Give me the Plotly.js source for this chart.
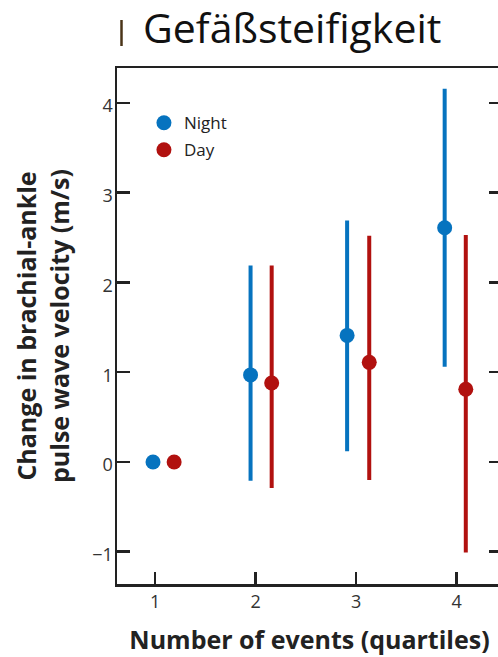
<!DOCTYPE html>
<html>
<head>
<meta charset="utf-8">
<script src="https://cdn.plot.ly/plotly-3.0.1.min.js"></script>
<style>
html,body{margin:0;padding:0;overflow:hidden;background:#fff;}
#chart{width:510px;height:657px;}
</style>
</head>
<body>
<div id="chart"></div>
<script>
// Quartile categories
const quartiles = [1, 2, 3, 4];
// Plotted x positions (dodged)
const nightX = [0.98, 1.95, 2.91, 3.88];
const dayX   = [1.19, 2.16, 3.13, 4.09];
// Night series: estimate and CI bounds
const nightValue = [0, 0.97, 1.41, 2.61];
const nightUpper = [0, 2.19, 2.69, 4.16];
const nightLower = [0, -0.21, 0.12, 1.06];
// Day series
const dayValue = [0, 0.88, 1.11, 0.81];
const dayUpper = [0, 2.19, 2.52, 2.53];
const dayLower = [0, -0.29, -0.20, -1.01];
const yTicks = [-1, 0, 1, 2, 3, 4];

const BLUE = '#0673BF';
const RED = '#B1110F';
const INK = '#222222';
const FONT = 'Open Sans, Noto Sans, sans-serif';

function trace(name, group, xs, vals, up, lo, color) {
  return {
    type: 'scatter', mode: 'markers', name: name, legendgroup: group,
    x: xs, y: vals,
    marker: {color: color, size: 15, line: {width: 0}},
    error_y: {
      type: 'data', symmetric: false,
      array: up.map((u, i) => u - vals[i]),
      arrayminus: lo.map((l, i) => vals[i] - l),
      color: color, thickness: 4, width: 0
    },
    cliponaxis: false
  };
}

const data = [
  trace('Night', 'n', nightX, nightValue, nightUpper, nightLower, BLUE),
  trace('Day', 'd', dayX, dayValue, dayUpper, dayLower, RED)
];

const layout = {
  width: 510, height: 657,
  margin: {l: 117, r: 8, t: 68, b: 73, pad: 0},
  paper_bgcolor: '#ffffff', plot_bgcolor: '#ffffff',
  font: {family: FONT, color: INK},
  title: {
    text: 'Gefäßsteifigkeit',
    font: {family: FONT, size: 41, color: '#111111'},
    xref: 'container', yref: 'container',
    x: 143/510, xanchor: 'left',
    y: 1 - 28.5/657, yanchor: 'middle'
  },
  showlegend: true,
  legend: {
    x: 0.07, y: 0.928, xanchor: 'left', yanchor: 'top',
    bgcolor: 'rgba(0,0,0,0)', borderwidth: 0,
    font: {family: FONT, size: 17, color: INK},
    itemwidth: 30, traceorder: 'grouped', tracegroupgap: 2
  },
  xaxis: {
    range: [0.622, 4.45],
    tickvals: quartiles, ticktext: quartiles.map(String),
    ticks: 'inside', ticklen: 12, tickwidth: 2.5, tickcolor: INK,
    showline: true, linewidth: 2.5, linecolor: INK, mirror: true,
    showgrid: false, zeroline: false,
    tickfont: {family: FONT, size: 18, color: '#333333'},
    title: {text: '<b>Number of events (quartiles)</b>', font: {family: FONT, size: 25, color: INK}, standoff: 20},
    automargin: false, fixedrange: true
  },
  yaxis: {
    range: [-1.36, 4.39],
    tickvals: yTicks,
    ticks: 'inside', ticklen: 13, tickwidth: 2.5, tickcolor: INK,
    showline: true, linewidth: 2.5, linecolor: INK, mirror: 'ticks',
    showgrid: false, zeroline: false,
    tickfont: {family: FONT, size: 18, color: '#333333'},
    ticklabelstandoff: -2, ticklabelshift: 3,
    title: {text: '<b>Change in brachial-ankle<br>pulse wave velocity (m/s)</b>', font: {family: FONT, size: 25, color: INK}, standoff: 16},
    automargin: false, fixedrange: true
  },
  shapes: [{
    type: 'line', xref: 'paper', yref: 'paper',
    x0: (121.5-117)/385, x1: (121.5-117)/385,
    y0: (584-20)/516, y1: (584-46)/516,
    line: {color: '#4a3418', width: 2.5}
  }]
};

Plotly.newPlot('chart', data, layout, {displayModeBar: false, staticPlot: true});
</script>
</body>
</html>
